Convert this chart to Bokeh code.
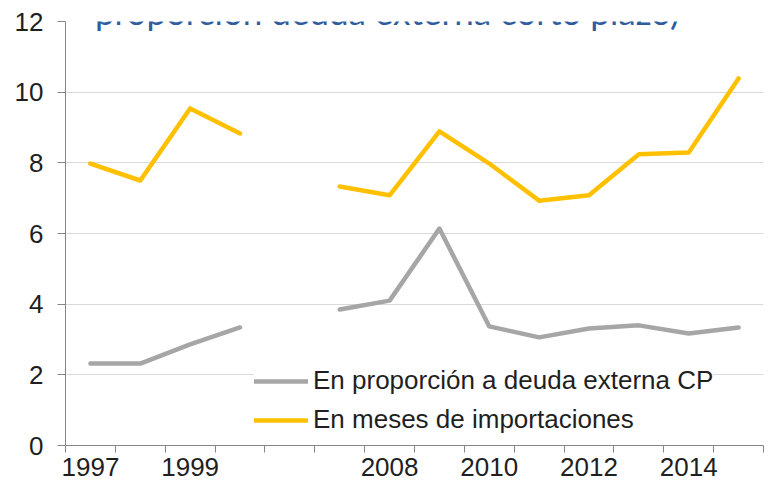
import math
from bokeh.plotting import figure
from bokeh.models import FixedTicker, Label, Legend, LegendItem, Range1d, ColumnDataSource
from bokeh.embed import file_html
from bokeh.resources import INLINE

# ---- data ----
years = ["1997", "1998", "1999", "2000", "", "2007", "2008", "2009", "2010",
         "2011", "2012", "2013", "2014", "2015"]
tick_labels = ["1997", "", "1999", "", "", "", "2008", "", "2010", "", "2012", "", "2014", ""]
meses_importaciones = [7.98, 7.5, 9.54, 8.83, float("nan"), 7.33, 7.08, 8.89, 7.98,
                       6.93, 7.08, 8.24, 8.29, 10.39]
proporcion_deuda_cp = [2.32, 2.32, 2.86, 3.34, float("nan"), 3.85, 4.1, 6.14, 3.37,
                       3.06, 3.31, 3.4, 3.17, 3.34]
y_ticks = [0, 2, 4, 6, 8, 10, 12]
title_text = "proporción deuda externa corto plazo)"
legend_labels = ["En proporción a deuda externa CP", "En meses de importaciones"]

n = len(years)
xs = [i + 0.5 for i in range(n)]

FONT = "Liberation Sans"
GOLD = "#FFC000"
GRAY = "#A6A6A6"
TEXT = "#1F1F1F"
AXIS = "#868686"

p = figure(width=769, height=489, output_backend="svg", toolbar_location=None,
           x_range=Range1d(0, n), y_range=Range1d(0, 12),
           min_border_left=65, min_border_right=6, min_border_top=21, min_border_bottom=44)
p.outline_line_color = None
p.background_fill_color = "white"
p.border_fill_color = "white"

src = ColumnDataSource(dict(x=xs, g=meses_importaciones, c=proporcion_deuda_cp))
r_gray = p.line("x", "c", source=src, line_color=GRAY, line_width=4.5,
                line_cap="round", line_join="round")
r_gold = p.line("x", "g", source=src, line_color=GOLD, line_width=4.5,
                line_cap="round", line_join="round")

# x axis: labels at category centres, ticks at boundaries
xa = p.xaxis[0]
xa.ticker = FixedTicker(ticks=xs, minor_ticks=list(range(n + 1)))
xa.major_label_overrides = {x: lab for x, lab in zip(xs, tick_labels)}
xa.major_tick_line_color = None
xa.major_tick_out = 0
xa.major_tick_in = 0
xa.minor_tick_line_color = AXIS
xa.minor_tick_out = 7
xa.minor_tick_in = 0
xa.axis_line_color = AXIS
xa.major_label_text_font = FONT
xa.major_label_text_font_size = "26px"
xa.major_label_text_color = TEXT
xa.major_label_standoff = 5

ya = p.yaxis[0]
ya.ticker = FixedTicker(ticks=y_ticks)
ya.minor_tick_line_color = None
ya.major_tick_out = 8
ya.major_tick_in = 0
ya.major_tick_line_color = AXIS
ya.axis_line_color = AXIS
ya.major_label_text_font = FONT
ya.major_label_text_font_size = "26px"
ya.major_label_text_color = TEXT
ya.major_label_standoff = 14

p.xgrid.grid_line_color = None
p.ygrid.ticker = FixedTicker(ticks=y_ticks[1:])
p.ygrid.grid_line_color = "#D9D9D9"
p.ygrid.grid_line_width = 1

legend = Legend(items=[LegendItem(label=legend_labels[0], renderers=[r_gray]),
                       LegendItem(label=legend_labels[1], renderers=[r_gold])],
                location=(189, 10), orientation="vertical",
                label_text_font=FONT, label_text_font_size="26px", label_text_color=TEXT,
                glyph_width=54, glyph_height=30, label_height=30, spacing=8,
                padding=4, margin=0, label_standoff=5,
                border_line_color=None, background_fill_color="white",
                background_fill_alpha=1.0)
p.add_layout(legend, "center")

title = Label(x=6.45, y=12.3, x_units="data", y_units="data", text=title_text,
              text_align="center", text_baseline="alphabetic",
              text_font="Lato", text_font_size="35px", text_color="#2E5C9E")
p.add_layout(title)

open("out.html", "w").write(file_html(p, INLINE))
